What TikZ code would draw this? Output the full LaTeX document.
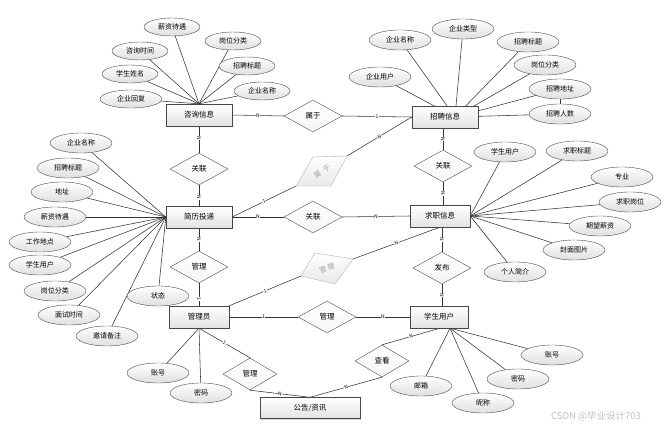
\documentclass[tikz,border=0pt]{standalone}
\usepackage{fontspec}
\setmainfont{Noto Sans CJK SC}
\usetikzlibrary{shapes.geometric,shadows,calc}
\pgfdeclarelayer{bg}
\pgfsetlayers{bg,main}
\tikzset{
 ent/.style={rectangle, draw=gray!55!black, top color=white, bottom color=gray!22,
   minimum width=66pt, minimum height=22pt, inner sep=0pt, font=\fontsize{7.5}{8}\selectfont,
   drop shadow={shadow xshift=1.2pt, shadow yshift=-1.2pt, opacity=0.35, fill=gray}},
 attr/.style={ellipse, draw=gray!60!black, top color=white, bottom color=gray!25,
   minimum width=62pt, minimum height=20pt, inner sep=0pt, font=\fontsize{7}{8}\selectfont},
 sattr/.style={attr, minimum width=56pt, minimum height=18pt},
 rel/.style={diamond, draw=gray!60!black, top color=white, bottom color=gray!8,
   minimum width=58pt, minimum height=32pt, inner sep=0pt, font=\fontsize{7.5}{8}\selectfont},
 greyrel/.style={draw=gray!60, top color=white, bottom color=gray!18},
 greytext/.style={text=gray!75, font=\fontsize{7}{7}\selectfont, inner sep=0pt},
 ln/.style={draw=gray!40!black, line width=0.55pt},
 card/.style={font=\fontsize{5}{5}\selectfont, inner sep=0.4pt, fill=white, text=black},
}
\begin{document}
\begin{tikzpicture}[x=1pt,y=-1pt]
\useasboundingbox (0,0) rectangle (665,431);
% ---------- entities
\node[ent] (zx) at (199,115) {咨询信息};
\node[ent] (zp) at (445,117) {招聘信息};
\node[ent] (jl) at (199,217) {简历投递};
\node[ent, minimum width=60pt] (qz) at (440,216) {求职信息};
\node[ent, minimum width=60pt] (gly) at (199,317) {管理员};
\node[ent, minimum width=58pt] (xs) at (439,317) {学生用户};
\node[ent, minimum width=100pt, minimum height=21pt] (gg) at (310,408) {公告/资讯};
% ---------- relationships
\node[rel] (r1) at (313,116) {属于};
\node[rel] (r2) at (199,169) {关联};
\node[rel] (r4) at (443,166) {关联};
\node[rel] (r5) at (313,217) {关联};
\node[rel] (r6) at (199,267) {管理};
\node[rel] (r8) at (442,268) {发布};
\node[rel] (r9) at (327,317) {管理};
\node[rel, minimum width=54pt] (r10) at (250,374) {管理};
\node[rel, minimum width=54pt] (r11) at (382,361) {查看};
% grey skewed relationships
\coordinate (r3l) at (296,186);
\coordinate (r3tl) at (313,157);
\coordinate (r3r) at (347,156);
\coordinate (r3br) at (331,186);
\path[greyrel] (r3l) -- (r3tl) -- (r3r) -- (r3br) -- cycle;
\node[greytext, rotate=33] (r3) at (322,171) {属\hspace{4pt}于};
\coordinate (r7l) at (301,276);
\coordinate (r7t) at (315,253);
\coordinate (r7r) at (353,259);
\coordinate (r7b) at (335,284);
\path[greyrel] (r7l) -- (r7t) -- (r7r) -- (r7b) -- cycle;
\node[greytext, rotate=20] (r7) at (327,268) {管\hspace{1.5pt}理};
% ---------- attributes of 咨询信息
\node[sattr] (za1) at (172,27) {薪资待遇};
\node[sattr] (za2) at (233,41) {岗位分类};
\node[sattr] (za3) at (140,51) {咨询时间};
\node[sattr] (za4) at (247,66) {招聘标题};
\node[sattr] (za5) at (130,74) {学生姓名};
\node[sattr] (za6) at (262,91) {企业名称};
\node[sattr, minimum width=62pt] (za7) at (131,99) {企业回复};
% ---------- attributes of 招聘信息
\node[attr] (pa1) at (400,40) {企业名称};
\node[attr] (pa2) at (463,29) {企业类型};
\node[attr] (pa3) at (528,42) {招聘标题};
\node[attr] (pa4) at (380,77) {企业用户};
\node[attr] (pa5) at (545,65) {岗位分类};
\node[attr] (pa6) at (560,89) {招聘地址};
\node[attr] (pa7) at (560,114) {招聘人数};
\coordinate (zpc) at ([xshift=10pt]zp.center);
% ---------- attributes of 简历投递
\node[attr] (ja1) at (81,143) {企业名称};
\node[attr] (ja2) at (68,168) {招聘标题};
\node[attr] (ja3) at (62,192) {地址};
\node[attr] (ja4) at (55,217) {薪资待遇};
\node[attr] (ja5) at (40,242) {工作地点};
\node[attr] (ja6) at (40,265) {学生用户};
\node[attr] (ja7) at (55,291) {岗位分类};
\node[attr] (ja8) at (69,315) {面试时间};
\node[attr] (ja9) at (107,336) {邀请备注};
\node[attr] (ja10) at (158,296) {状态};
% ---------- attributes of 求职信息
\node[attr] (qa1) at (505,152) {学生用户};
\node[attr] (qa2) at (577,151) {求职标题};
\node[attr] (qa3) at (622,177) {专业};
\node[attr] (qa4) at (630,202) {求职岗位};
\node[attr] (qa5) at (600,226) {期望薪资};
\node[attr] (qa6) at (574,250) {封面图片};
\node[attr] (qa7) at (515,272) {个人简介};
% ---------- attributes of 管理员
\node[attr] (ga1) at (158,373) {账号};
\node[attr] (ga2) at (201,393) {密码};
% ---------- attributes of 学生用户
\node[attr] (xa1) at (552,355) {账号};
\node[attr] (xa2) at (518,379) {密码};
\node[attr] (xa3) at (421,386) {邮箱};
\node[attr] (xa4) at (483,403) {昵称};
\coordinate (xsb) at ([xshift=11pt]xs.south);
% watermark
\node[text=gray!50, font=\fontsize{9.5}{10}\selectfont, inner sep=0pt] (wm) at (596,416) {CSDN @毕业设计703};
% ---------- connectors
\begin{pgfonlayer}{bg}
\foreach \a in {za1,za2,za3,za4,za5,za6,za7} \draw[ln] (\a) -- (zx.north);
\foreach \a in {pa1,pa2,pa3,pa4,pa5,pa6,pa7} \draw[ln] (\a) -- (zpc);
\draw[ln] (pa6) -- (pa7);
\foreach \a in {ja1,ja2,ja3,ja4,ja5,ja6,ja7,ja8,ja9,ja10} \draw[ln] (\a) -- (jl.west);
\foreach \a in {qa1,qa2,qa3,qa4,qa5,qa6,qa7} \draw[ln] (\a) -- (qz.east);
\foreach \a in {ga1,ga2} \draw[ln] (\a) -- (gly.south);
\foreach \a in {xa1,xa2,xa3,xa4} \draw[ln] (\a) -- (xsb);
% relationship lines
\draw[ln] (zx.east) -- node[card]{N} (r1.west);
\draw[ln] (r1.east) -- node[card]{1} (zp.west);
\draw[ln] (zx.south) -- node[card,sloped,pos=0.45]{N} (r2.north);
\draw[ln] (r2.south) -- node[card,sloped,pos=0.6]{N} (jl.north);
\draw[ln] (jl.east) -- node[card,sloped]{1} (r3l);
\draw[ln] (r3r) -- node[card,sloped]{N} (zp.west);
\draw[ln] (r4.north |- zp.south) -- node[card,sloped,pos=0.5]{N} (r4.north);
\draw[ln] (r4.south) -- node[card,sloped,pos=0.5]{N} (r4.south |- qz.north);
\draw[ln] (jl.east) -- node[card]{N} (r5.west);
\draw[ln] (r5.east) -- node[card]{N} (qz.west);
\draw[ln] (jl.south) -- node[card,sloped]{N} (r6.north);
\draw[ln] (r6.south) -- node[card,sloped,pos=0.7]{1} (gly.north);
\draw[ln] (gly.north east) -- node[card,sloped]{1} (r7l);
\draw[ln] (r7r) -- node[card,sloped]{N} (qz.south);
\draw[ln] (r8.north |- qz.south) -- node[card,sloped]{N} (r8.north);
\draw[ln] (r8.south) -- node[card,sloped]{N} (r8.south |- xs.north);
\draw[ln] (gly.east) -- node[card]{1} (r9.west);
\draw[ln] (r9.east) -- node[card]{N} (xs.west);
\draw[ln] (gly.south) -- node[card,sloped]{1} (r10.north);
\draw[ln] (r10.south) -- node[card,sloped]{N} (gg.north);
\draw[ln] ([xshift=1pt]xs.south) -- node[card,sloped]{N} (r11.north);
\draw[ln] (r11.south) -- node[card,sloped]{N} (gg.north);
\end{pgfonlayer}
\end{tikzpicture}
\end{document}
